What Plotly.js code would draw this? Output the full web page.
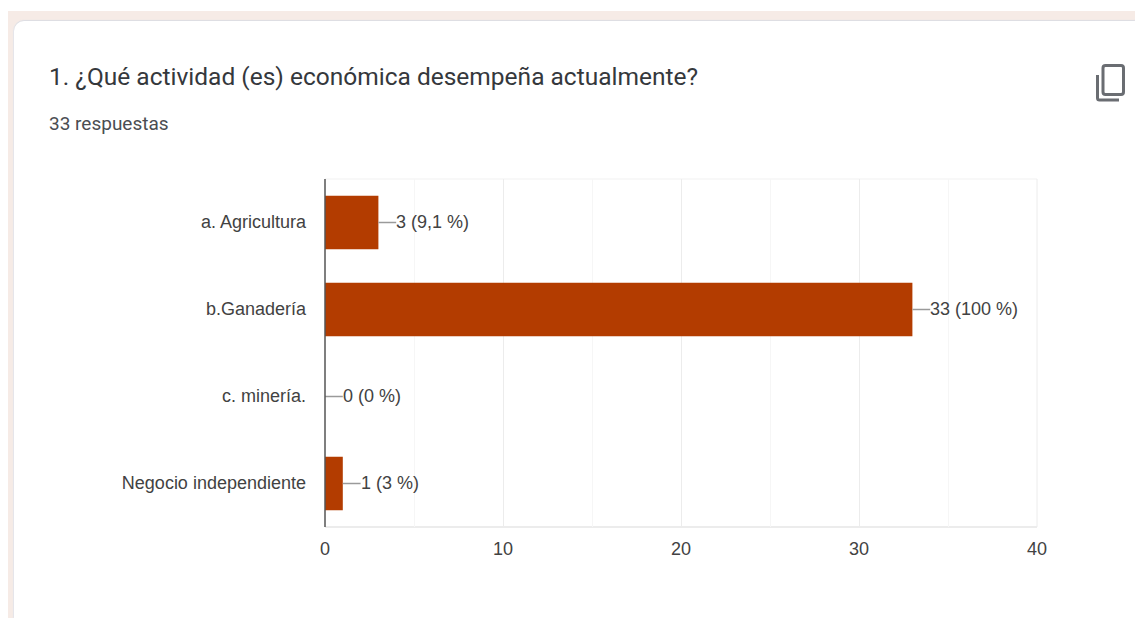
<!DOCTYPE html>
<html>
<head>
<meta charset="utf-8">
<script src="https://cdn.plot.ly/plotly-3.0.1.min.js"></script>
<style>
html,body{margin:0;padding:0;background:#fff;overflow:hidden}
#band{position:absolute;left:8px;top:11px;width:1127px;height:607px;background:#f6ebe6}
#card{position:absolute;left:14px;top:21px;width:1121px;height:597px;background:#fff;border-top-left-radius:10px;box-shadow:0 -1px 1px #dcdde3,-1px 0 1px #e6e6ea}
#chart{position:absolute;left:0;top:0;width:1135px;height:618px}
#icon{position:absolute;left:1094px;top:62px}
</style>
</head>
<body>
<div id="band"></div>
<div id="card"></div>
<div id="chart"></div>
<svg id="icon" width="32" height="40" viewBox="0 0 32 40">
  <path d="M3.5 13 V36 Q3.5 38 5.5 38 H25" fill="none" stroke="#6a6d72" stroke-width="3"/>
  <rect x="9" y="3.5" width="20.5" height="29" rx="2.5" fill="none" stroke="#6a6d72" stroke-width="3"/>
</svg>
<script>
var categories = ["a. Agricultura", "b.Ganadería", "c. minería.", "Negocio independiente"];
var counts = [3, 33, 0, 1];
var percents = ["9,1", "100", "0", "3"];
var titleText = "1. ¿Qué actividad (es) económica desempeña actualmente?";
var subtitleText = "33 respuestas";
var xTicks = [0, 10, 20, 30, 40];

var W = 1135, H = 618;
var L = 325, R = 1037, T = 179, B = 527;
var leaderUnits = 1;
var labelFont = {family: "Liberation Sans, Arial, sans-serif", size: 18, color: "#424242"};

var traces = [{
  type: "bar", orientation: "h", x: counts, y: categories,
  marker: {color: "#b33c00", line: {width: 0}}, hoverinfo: "skip"
}];
categories.forEach(function (c, i) {
  traces.push({
    type: "scatter", mode: "lines",
    x: [counts[i], counts[i] + leaderUnits], y: [c, c],
    line: {color: "#9a9a9a", width: 1.5}, hoverinfo: "skip", showlegend: false
  });
});

var annotations = categories.map(function (c, i) {
  return {
    x: counts[i] + leaderUnits, y: c, xref: "x", yref: "y",
    text: counts[i] + " (" + percents[i] + " %)",
    showarrow: false, xanchor: "left", yanchor: "middle", xshift: -2, yshift: 1,
    font: labelFont
  };
});
annotations.push({
  xref: "paper", yref: "paper",
  x: (49 - L) / (R - L), y: (B - 123) / (B - T),
  text: subtitleText, showarrow: false, xanchor: "left", yanchor: "middle", xshift: -2,
  font: {family: "Roboto, sans-serif", size: 19, color: "#4a4d52"}
});

var layout = {
  width: W, height: H,
  paper_bgcolor: "rgba(0,0,0,0)", plot_bgcolor: "rgba(0,0,0,0)",
  margin: {l: L, r: W - R, t: T, b: H - B, pad: 0},
  showlegend: false, bargap: 0.385,
  title: {
    text: titleText, x: 49 / W, xanchor: "left", xref: "container",
    y: 1 - 76 / H, yanchor: "middle", yref: "container",
    font: {family: "Roboto, sans-serif", size: 24.5, color: "#35383c"}
  },
  xaxis: {
    range: [0, 40], tickvals: xTicks, ticktext: xTicks.map(String),
    showgrid: true, gridcolor: "#ececec", gridwidth: 1,
    minor: {dtick: 5, showgrid: true, gridcolor: "#f6f6f6", gridwidth: 1, ticks: ""},
    zeroline: false, showline: false, ticks: "", ticklabelstandoff: 9,
    tickfont: labelFont, fixedrange: true
  },
  yaxis: {
    type: "category", autorange: false, range: [3.5, -0.5],
    categoryorder: "array", categoryarray: categories,
    showgrid: false, zeroline: false, showline: false, ticks: "",
    ticklabelstandoff: 18, ticklabelshift: 1, tickfont: labelFont, fixedrange: true
  },
  shapes: [
    {type: "line", xref: "paper", yref: "paper", x0: 0, x1: 1, y0: 1, y1: 1, line: {color: "#f1f1f1", width: 1}, layer: "below"},
    {type: "line", xref: "paper", yref: "paper", x0: 0, x1: 1, y0: 0, y1: 0, line: {color: "#ececec", width: 2}, layer: "below"},
    {type: "line", xref: "paper", yref: "paper", x0: 1, x1: 1, y0: 0, y1: 1, line: {color: "#ececec", width: 1}, layer: "below"},
    {type: "line", xref: "paper", yref: "paper", x0: 0, x1: 0, y0: 0, y1: 1, line: {color: "#555555", width: 1.5}, layer: "above"}
  ],
  annotations: annotations
};
Plotly.newPlot("chart", traces, layout, {displayModeBar: false, staticPlot: true});
</script>
</body>
</html>
